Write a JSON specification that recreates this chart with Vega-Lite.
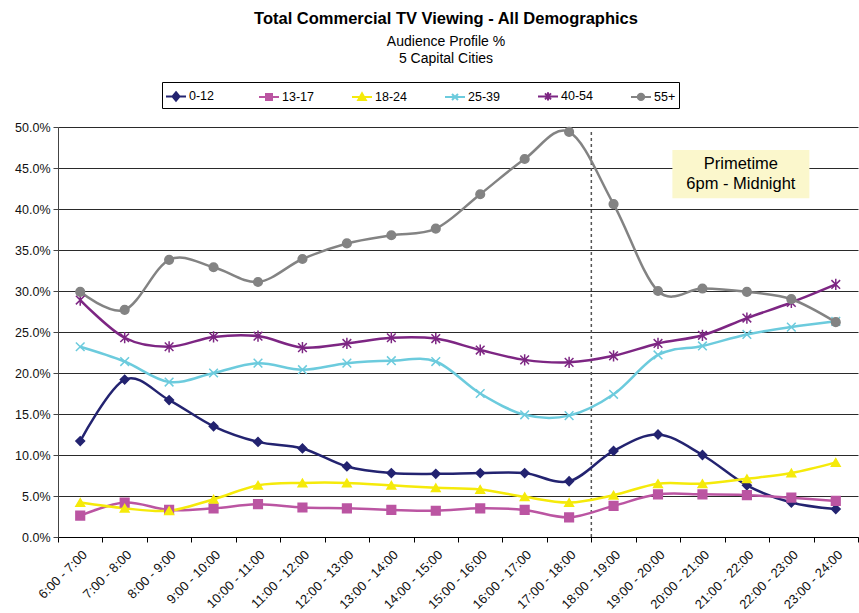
{
  "$schema": "https://vega.github.io/schema/vega-lite/v6.json",
  "width": 800,
  "height": 410,
  "autosize": {"type": "none"},
  "padding": {"left": 58, "top": 127, "right": 1, "bottom": 76},
  "background": "white",
  "config": {
    "font": "Liberation Sans",
    "view": {"stroke": null},
    "axis": {"labelFont": "Liberation Sans", "labelColor": "#111", "labelFontSize": 12.5}
  },
  "title": {
    "text": "Total Commercial TV Viewing - All Demographics",
    "subtitle": ["Audience Profile %", "5 Capital Cities"],
    "anchor": "middle",
    "frame": "group",
    "dx": -12,
    "offset": 16,
    "fontSize": 16.5,
    "fontWeight": "bold",
    "color": "#000",
    "subtitleFontSize": 14,
    "subtitleColor": "#000",
    "subtitleLineHeight": 17,
    "subtitlePadding": 7
  },
  "datasets": {
    "main": [
      {"t":"6:00 - 7:00","s":"0-12","v":11.7},{"t":"7:00 - 8:00","s":"0-12","v":19.2},{"t":"8:00 - 9:00","s":"0-12","v":16.7},{"t":"9:00 - 10:00","s":"0-12","v":13.5},{"t":"10:00 - 11:00","s":"0-12","v":11.6},{"t":"11:00 - 12:00","s":"0-12","v":10.8},{"t":"12:00 - 13:00","s":"0-12","v":8.6},{"t":"13:00 - 14:00","s":"0-12","v":7.8},{"t":"14:00 - 15:00","s":"0-12","v":7.7},{"t":"15:00 - 16:00","s":"0-12","v":7.8},{"t":"16:00 - 17:00","s":"0-12","v":7.8},{"t":"17:00 - 18:00","s":"0-12","v":6.8},{"t":"18:00 - 19:00","s":"0-12","v":10.5},{"t":"19:00 - 20:00","s":"0-12","v":12.5},{"t":"20:00 - 21:00","s":"0-12","v":10.0},{"t":"21:00 - 22:00","s":"0-12","v":6.3},{"t":"22:00 - 23:00","s":"0-12","v":4.2},{"t":"23:00 - 24:00","s":"0-12","v":3.4},
      {"t":"6:00 - 7:00","s":"13-17","v":2.6},{"t":"7:00 - 8:00","s":"13-17","v":4.2},{"t":"8:00 - 9:00","s":"13-17","v":3.3},{"t":"9:00 - 10:00","s":"13-17","v":3.5},{"t":"10:00 - 11:00","s":"13-17","v":4.0},{"t":"11:00 - 12:00","s":"13-17","v":3.6},{"t":"12:00 - 13:00","s":"13-17","v":3.5},{"t":"13:00 - 14:00","s":"13-17","v":3.3},{"t":"14:00 - 15:00","s":"13-17","v":3.2},{"t":"15:00 - 16:00","s":"13-17","v":3.5},{"t":"16:00 - 17:00","s":"13-17","v":3.3},{"t":"17:00 - 18:00","s":"13-17","v":2.4},{"t":"18:00 - 19:00","s":"13-17","v":3.8},{"t":"19:00 - 20:00","s":"13-17","v":5.2},{"t":"20:00 - 21:00","s":"13-17","v":5.2},{"t":"21:00 - 22:00","s":"13-17","v":5.1},{"t":"22:00 - 23:00","s":"13-17","v":4.8},{"t":"23:00 - 24:00","s":"13-17","v":4.4},
      {"t":"6:00 - 7:00","s":"18-24","v":4.2},{"t":"7:00 - 8:00","s":"18-24","v":3.5},{"t":"8:00 - 9:00","s":"18-24","v":3.2},{"t":"9:00 - 10:00","s":"18-24","v":4.6},{"t":"10:00 - 11:00","s":"18-24","v":6.3},{"t":"11:00 - 12:00","s":"18-24","v":6.6},{"t":"12:00 - 13:00","s":"18-24","v":6.6},{"t":"13:00 - 14:00","s":"18-24","v":6.3},{"t":"14:00 - 15:00","s":"18-24","v":6.0},{"t":"15:00 - 16:00","s":"18-24","v":5.8},{"t":"16:00 - 17:00","s":"18-24","v":4.9},{"t":"17:00 - 18:00","s":"18-24","v":4.2},{"t":"18:00 - 19:00","s":"18-24","v":5.1},{"t":"19:00 - 20:00","s":"18-24","v":6.5},{"t":"20:00 - 21:00","s":"18-24","v":6.5},{"t":"21:00 - 22:00","s":"18-24","v":7.1},{"t":"22:00 - 23:00","s":"18-24","v":7.8},{"t":"23:00 - 24:00","s":"18-24","v":9.1},
      {"t":"6:00 - 7:00","s":"25-39","v":23.2},{"t":"7:00 - 8:00","s":"25-39","v":21.4},{"t":"8:00 - 9:00","s":"25-39","v":18.9},{"t":"9:00 - 10:00","s":"25-39","v":20.0},{"t":"10:00 - 11:00","s":"25-39","v":21.2},{"t":"11:00 - 12:00","s":"25-39","v":20.4},{"t":"12:00 - 13:00","s":"25-39","v":21.2},{"t":"13:00 - 14:00","s":"25-39","v":21.5},{"t":"14:00 - 15:00","s":"25-39","v":21.4},{"t":"15:00 - 16:00","s":"25-39","v":17.5},{"t":"16:00 - 17:00","s":"25-39","v":14.9},{"t":"17:00 - 18:00","s":"25-39","v":14.8},{"t":"18:00 - 19:00","s":"25-39","v":17.4},{"t":"19:00 - 20:00","s":"25-39","v":22.2},{"t":"20:00 - 21:00","s":"25-39","v":23.3},{"t":"21:00 - 22:00","s":"25-39","v":24.7},{"t":"22:00 - 23:00","s":"25-39","v":25.6},{"t":"23:00 - 24:00","s":"25-39","v":26.3},
      {"t":"6:00 - 7:00","s":"40-54","v":28.9},{"t":"7:00 - 8:00","s":"40-54","v":24.3},{"t":"8:00 - 9:00","s":"40-54","v":23.2},{"t":"9:00 - 10:00","s":"40-54","v":24.4},{"t":"10:00 - 11:00","s":"40-54","v":24.5},{"t":"11:00 - 12:00","s":"40-54","v":23.1},{"t":"12:00 - 13:00","s":"40-54","v":23.6},{"t":"13:00 - 14:00","s":"40-54","v":24.3},{"t":"14:00 - 15:00","s":"40-54","v":24.2},{"t":"15:00 - 16:00","s":"40-54","v":22.8},{"t":"16:00 - 17:00","s":"40-54","v":21.6},{"t":"17:00 - 18:00","s":"40-54","v":21.3},{"t":"18:00 - 19:00","s":"40-54","v":22.1},{"t":"19:00 - 20:00","s":"40-54","v":23.6},{"t":"20:00 - 21:00","s":"40-54","v":24.6},{"t":"21:00 - 22:00","s":"40-54","v":26.7},{"t":"22:00 - 23:00","s":"40-54","v":28.6},{"t":"23:00 - 24:00","s":"40-54","v":30.8},
      {"t":"6:00 - 7:00","s":"55+","v":29.9},{"t":"7:00 - 8:00","s":"55+","v":27.7},{"t":"8:00 - 9:00","s":"55+","v":33.8},{"t":"9:00 - 10:00","s":"55+","v":32.9},{"t":"10:00 - 11:00","s":"55+","v":31.1},{"t":"11:00 - 12:00","s":"55+","v":33.9},{"t":"12:00 - 13:00","s":"55+","v":35.8},{"t":"13:00 - 14:00","s":"55+","v":36.8},{"t":"14:00 - 15:00","s":"55+","v":37.6},{"t":"15:00 - 16:00","s":"55+","v":41.8},{"t":"16:00 - 17:00","s":"55+","v":46.1},{"t":"17:00 - 18:00","s":"55+","v":49.4},{"t":"18:00 - 19:00","s":"55+","v":40.6},{"t":"19:00 - 20:00","s":"55+","v":30.0},{"t":"20:00 - 21:00","s":"55+","v":30.3},{"t":"21:00 - 22:00","s":"55+","v":29.9},{"t":"22:00 - 23:00","s":"55+","v":29.0},{"t":"23:00 - 24:00","s":"55+","v":26.2}
    ],
    "rule": [{"t": "18:00 - 19:00", "lo": 0, "hi": 49.6}],
    "note": [{"t": "21:00 - 22:00", "lo": 41.3, "hi": 47.2, "mid": 45.5, "label": "Primetime\n6pm - Midnight"}]
  },
  "data": {"name": "main"},
  "encoding": {
    "x": {
      "field": "t", "type": "nominal", "title": null,
      "sort": null,
      "scale": {"type": "band", "paddingInner": 0, "paddingOuter": 0,
        "domain": ["6:00 - 7:00","7:00 - 8:00","8:00 - 9:00","9:00 - 10:00","10:00 - 11:00","11:00 - 12:00","12:00 - 13:00","13:00 - 14:00","14:00 - 15:00","15:00 - 16:00","16:00 - 17:00","17:00 - 18:00","18:00 - 19:00","19:00 - 20:00","20:00 - 21:00","21:00 - 22:00","22:00 - 23:00","23:00 - 24:00"]},
      "axis": {"labelAngle": -45, "tickBand": "extent", "domainColor": "#000", "tickColor": "#000", "tickSize": 5, "labelPadding": 6, "grid": false, "labelFontSize": 13}
    }
  },
  "layer": [
    {
      "mark": {"type": "bar", "width": 137, "xOffset": -6, "fill": "#FBF7CC"},
      "data": {"name": "note"},
      "encoding": {
        "y": {"field": "lo", "type": "quantitative"},
        "y2": {"field": "hi"}
      }
    },
    {
      "mark": {"type": "text", "xOffset": -6, "lineBreak": "\n", "fontSize": 16.5, "lineHeight": 20, "font": "Liberation Sans", "color": "#000", "baseline": "middle", "align": "center"},
      "data": {"name": "note"},
      "encoding": {
        "y": {"field": "mid", "type": "quantitative"},
        "text": {"field": "label"}
      }
    },
    {
      "mark": {"type": "rule", "strokeDash": [3, 3], "strokeWidth": 1.5, "color": "#555"},
      "data": {"name": "rule"},
      "encoding": {
        "x": {"field": "t", "type": "nominal", "bandPosition": 0},
        "y": {"field": "lo", "type": "quantitative"},
        "y2": {"field": "hi"}
      }
    },
    {
      "mark": {"type": "line", "interpolate": "cardinal", "strokeWidth": 2.5},
      "encoding": {
        "y": {"field": "v", "type": "quantitative", "title": null,
          "scale": {"domain": [0, 50], "nice": false},
          "axis": {"values": [0,5,10,15,20,25,30,35,40,45,50], "labelExpr": "format(datum.value, '.1f') + '%'", "grid": true, "gridColor": "#2a2a2a", "gridWidth": 1, "domainColor": "#444", "tickColor": "#444", "tickSize": 5, "labelPadding": 3}},
        "stroke": {"field": "s", "type": "nominal", "legend": null,
          "scale": {"domain": ["0-12","13-17","18-24","25-39","40-54","55+"], "range": ["#232370","#BB55A2","#F5EA0A","#6CCBDD","#7D2683","#838383"]}}
      }
    },
    {
      "mark": {"type": "point", "size": 75, "strokeWidth": 1.5, "opacity": 1},
      "encoding": {
        "y": {"field": "v", "type": "quantitative"},
        "fill": {"field": "s", "type": "nominal", "legend": null,
          "scale": {"domain": ["0-12","13-17","18-24","25-39","40-54","55+"], "range": ["#232370","#BB55A2","#F5EA0A","#6CCBDD","#7D2683","#838383"]}},
        "stroke": {"field": "s", "type": "nominal", "legend": null,
          "scale": {"domain": ["0-12","13-17","18-24","25-39","40-54","55+"], "range": ["#232370","#BB55A2","#F5EA0A","#6CCBDD","#7D2683","#838383"]}},
        "shape": {"field": "s", "type": "nominal", "legend": null,
          "scale": {"domain": ["0-12","13-17","18-24","25-39","40-54","55+"], "range": ["diamond", "square", "triangle-up", "M-1,-1L1,1M-1,1L1,-1", "M-1,-1L1,1M-1,1L1,-1M0,-1.3L0,1.3", "circle"]}}
      }
    },
    {
      "transform": [{"filter": "false"}],
      "mark": {"type": "point", "size": 400, "strokeWidth": 2, "opacity": 1},
      "encoding": {
        "y": {"field": "v", "type": "quantitative"},
        "fill": {"field": "s", "type": "nominal", "title": null,
          "scale": {"domain": ["0-12","13-17","18-24","25-39","40-54","55+"], "range": ["#232370","#BB55A2","#F5EA0A","#6CCBDD","#7D2683","#838383"]},
          "legend": {"orient": "none", "legendX": 104, "legendY": -45, "direction": "horizontal", "gridAlign": "all", "columnPadding": 34, "padding": 3, "strokeColor": "#000", "fillColor": "#fff", "labelFontSize": 12.5, "labelFont": "Liberation Sans", "labelColor": "#000", "labelOffset": 2, "symbolSize": 400, "symbolStrokeWidth": 2}},
        "stroke": {"field": "s", "type": "nominal", "title": null,
          "scale": {"domain": ["0-12","13-17","18-24","25-39","40-54","55+"], "range": ["#232370","#BB55A2","#F5EA0A","#6CCBDD","#7D2683","#838383"]},
          "legend": {"orient": "none", "legendX": 104, "legendY": -45, "direction": "horizontal", "gridAlign": "all", "columnPadding": 34, "padding": 3, "strokeColor": "#000", "fillColor": "#fff", "labelFontSize": 12.5, "labelFont": "Liberation Sans", "labelColor": "#000", "labelOffset": 2, "symbolSize": 400, "symbolStrokeWidth": 2}},
        "shape": {"field": "s", "type": "nominal", "title": null,
          "scale": {"domain": ["0-12","13-17","18-24","25-39","40-54","55+"], "range": [
            "M-1,0L1,0M0,-0.42L0.35,0L0,0.42L-0.35,0Z",
            "M-1,0L1,0M-0.3,-0.3L0.3,-0.3L0.3,0.3L-0.3,0.3Z",
            "M-1,0L1,0M0,-0.38L0.38,0.3L-0.38,0.3Z",
            "M-1,0L1,0M-0.3,-0.3L0.3,0.3M-0.3,0.3L0.3,-0.3",
            "M-1,0L1,0M-0.3,-0.3L0.3,0.3M-0.3,0.3L0.3,-0.3M0,-0.42L0,0.42",
            "M-1,0L1,0M-0.32,0A0.32,0.32,0,1,1,0.32,0A0.32,0.32,0,1,1,-0.32,0Z"]},
          "legend": {"orient": "none", "legendX": 104, "legendY": -45, "direction": "horizontal", "gridAlign": "all", "columnPadding": 34, "padding": 3, "strokeColor": "#000", "fillColor": "#fff", "labelFontSize": 12.5, "labelFont": "Liberation Sans", "labelColor": "#000", "labelOffset": 2, "symbolSize": 400, "symbolStrokeWidth": 2}}
      }
    }
  ],
  "resolve": {
    "scale": {"fill": "independent", "stroke": "independent", "shape": "independent"},
    "legend": {"fill": "independent", "stroke": "independent", "shape": "independent"}
  }
}
